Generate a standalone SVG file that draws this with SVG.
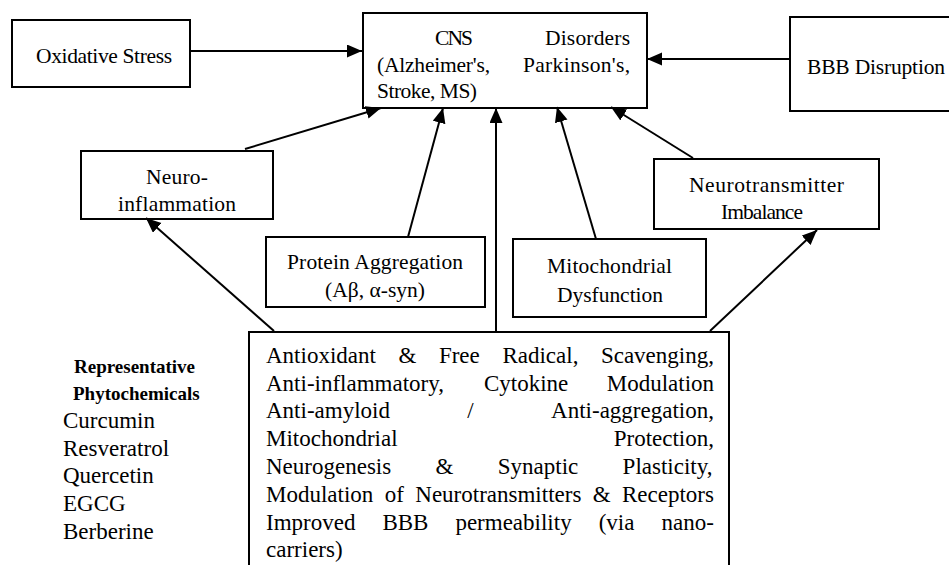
<svg xmlns="http://www.w3.org/2000/svg" width="949" height="565" viewBox="0 0 949 565">
<style>
  .box { fill: #ffffff; stroke: #000000; stroke-width: 2; }
  .lbl { font-family: "Liberation Serif", "Times New Roman", serif; font-size: 21.5px; fill: #000000; }
  .mid { text-anchor: middle; }
  .body { font-family: "Liberation Serif", "Times New Roman", serif; font-size: 23px; fill: #000000; }
  .bold { font-family: "Liberation Serif", "Times New Roman", serif; font-size: 19px; font-weight: bold; fill: #000000; }
  .conn line { stroke: #000000; stroke-width: 2; fill: none; marker-end: url(#arrow); }
</style>
<defs>
  <marker id="arrow" markerUnits="userSpaceOnUse" markerWidth="15" markerHeight="14" refX="15" refY="6.5" orient="auto">
    <path d="M0,0 L15,6.5 L0,13 z" fill="#000000"/>
  </marker>
</defs>
<rect width="949" height="565" fill="#ffffff"/>

<g id="oxidative-stress">
  <rect class="box" x="12" y="20" width="178" height="67"/>
  <text class="lbl mid" x="104" y="63" textLength="136">Oxidative Stress</text>
</g>

<g id="cns-disorders">
  <rect class="box" x="363" y="13" width="284" height="95"/>
  <text class="lbl" x="435" y="45" textLength="38">CNS</text>
  <text class="lbl" x="545" y="45" textLength="85">Disorders</text>
  <text class="lbl" x="377" y="72" textLength="113">(Alzheimer's,</text>
  <text class="lbl" x="523" y="72" textLength="107">Parkinson's,</text>
  <text class="lbl" x="377" y="98" textLength="100">Stroke, MS)</text>
</g>

<g id="bbb-disruption">
  <rect class="box" x="790" y="17" width="170" height="94"/>
  <text class="lbl" x="807" y="74" textLength="138">BBB Disruption</text>
</g>

<g id="neuroinflammation">
  <rect class="box" x="81" y="151" width="192" height="68"/>
  <text class="lbl mid" x="177" y="184" textLength="62">Neuro-</text>
  <text class="lbl mid" x="177" y="211" textLength="118">inflammation</text>
</g>

<g id="protein-aggregation">
  <rect class="box" x="266" y="237" width="219" height="70"/>
  <text class="lbl mid" x="375" y="269" textLength="176">Protein Aggregation</text>
  <text class="lbl mid" x="375" y="297" textLength="100">(Aβ, α-syn)</text>
</g>

<g id="mitochondrial-dysfunction">
  <rect class="box" x="513" y="239" width="193" height="78"/>
  <text class="lbl mid" x="609.5" y="273" textLength="125">Mitochondrial</text>
  <text class="lbl mid" x="610" y="302" textLength="106">Dysfunction</text>
</g>

<g id="neurotransmitter-imbalance">
  <rect class="box" x="654" y="159" width="225" height="70"/>
  <text class="lbl mid" x="766.5" y="192" textLength="155">Neurotransmitter</text>
  <text class="lbl mid" x="762" y="219" textLength="82">Imbalance</text>
</g>

<g id="phytochemical-mechanisms">
  <rect class="box" x="249" y="332" width="480" height="245"/>
  <text class="body" y="363"><tspan x="266">Antioxidant</tspan><tspan x="398.5">&amp;</tspan><tspan x="438.9">Free</tspan><tspan x="502.4">Radical,</tspan><tspan x="600.9">Scavenging,</tspan></text>
  <text class="body" y="391"><tspan x="266">Anti-inflammatory,</tspan><tspan x="484">Cytokine</tspan><tspan x="606.7">Modulation</tspan></text>
  <text class="body" y="418"><tspan x="266">Anti-amyloid</tspan><tspan x="467.3">/</tspan><tspan x="551.1">Anti-aggregation,</tspan></text>
  <text class="body" y="446"><tspan x="266">Mitochondrial</tspan><tspan x="613.7">Protection,</tspan></text>
  <text class="body" y="474"><tspan x="266">Neurogenesis</tspan><tspan x="435.5">&amp;</tspan><tspan x="497.8">Synaptic</tspan><tspan x="622.6">Plasticity,</tspan></text>
  <text class="body" y="502"><tspan x="266">Modulation</tspan><tspan x="384.7">of</tspan><tspan x="415.3">Neurotransmitters</tspan><tspan x="592.7">&amp;</tspan><tspan x="622">Receptors</tspan></text>
  <text class="body" y="530"><tspan x="266">Improved</tspan><tspan x="382.4">BBB</tspan><tspan x="455.4">permeability</tspan><tspan x="598.7">(via</tspan><tspan x="661.6">nano-</tspan></text>
  <text class="body" x="266" y="557">carriers)</text>
</g>

<g id="representative-phytochemicals">
  <text class="bold" x="74" y="373">Representative</text>
  <text class="bold" x="73" y="400">Phytochemicals</text>
  <text class="body" x="63" y="428">Curcumin</text>
  <text class="body" x="63" y="456">Resveratrol</text>
  <text class="body" x="63" y="483">Quercetin</text>
  <text class="body" x="63" y="511">EGCG</text>
  <text class="body" x="63" y="539">Berberine</text>
</g>

<g id="connectors" class="conn">
  <line x1="190" y1="51" x2="362" y2="51"/>
  <line x1="790" y1="59" x2="647" y2="59"/>
  <line x1="245" y1="149" x2="381" y2="108"/>
  <line x1="408" y1="237" x2="443" y2="108"/>
  <line x1="496" y1="332" x2="496" y2="108"/>
  <line x1="596" y1="239" x2="557" y2="107"/>
  <line x1="693" y1="158" x2="611" y2="107"/>
  <line x1="274" y1="331" x2="146" y2="218"/>
  <line x1="710" y1="331" x2="817" y2="230"/>
</g>
</svg>
